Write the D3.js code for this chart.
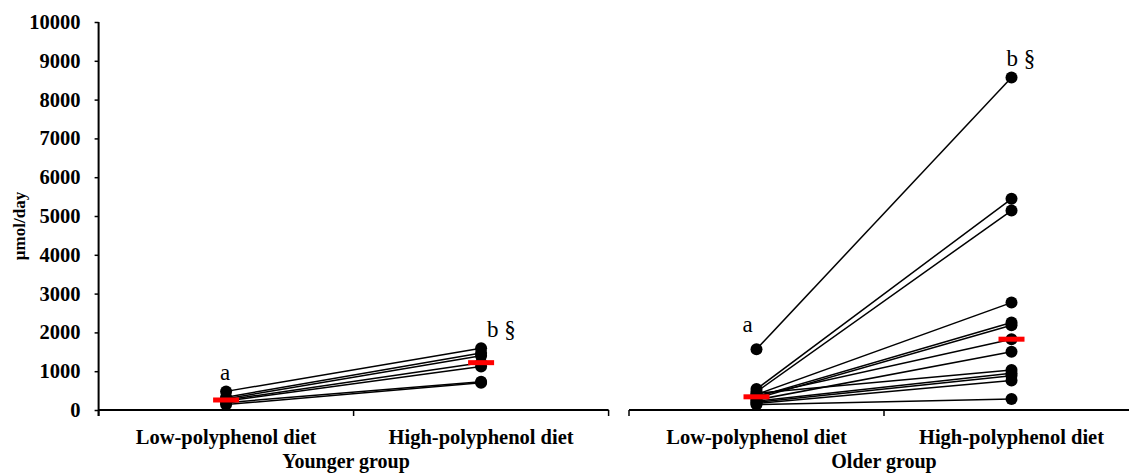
<!DOCTYPE html>
<html>
<head>
<meta charset="utf-8">
<script src="https://cdn.jsdelivr.net/npm/d3@7"></script>
<style>
  body { margin: 0; background: #fff; }
  svg { display: block; font-family: 'Liberation Serif', 'Times New Roman', serif; }
</style>
</head>
<body>
<svg id="chart" width="1129" height="474"></svg>
<script>
// categories
const groups = ['Younger group', 'Older group'];
const diets = ['Low-polyphenol diet', 'High-polyphenol diet'];
const yTicks = [0, 1000, 2000, 3000, 4000, 5000, 6000, 7000, 8000, 9000, 10000];

// paired subject values (µmol/day), index i = same subject
const youngerLow  = [480, 330, 290, 258, 230, 190, 140];
const youngerHigh = [1590, 1470, 1400, 1220, 1120, 730, 700];
const olderLow  = [1568, 540, 470, 400, 340, 300, 370, 260, 430, 230, 200, 170, 140];
const olderHigh = [8568, 5442, 5141, 2768, 2254, 2185, 1825, 1500, 1030, 950, 880, 760, 283];

// significance letters: [group, diet, text, y value of baseline, x shift]
const marks = [
    ['Younger group', 'Low-polyphenol diet', 'a', 773, -6],
    ['Younger group', 'High-polyphenol diet', 'b §', 1881, 6],
    ['Older group', 'Low-polyphenol diet', 'a', 2010, -14],
    ['Older group', 'High-polyphenol diet', 'b §', 8866, -5]
];

const svg = d3.select('#chart');
const serif = "'Liberation Serif', 'Times New Roman', serif";

const y = d3.scaleLinear().domain([0, 10000]).range([410, 22]);

// one x band scale per panel
const panelRange = {
    'Younger group': [98.6, 608.6],
    'Older group': [629, 1139]
};
const titleX = { 'Younger group': 346, 'Older group': 884 };

const seriesByGroup = {
    'Younger group': [youngerLow, youngerHigh],
    'Older group': [olderLow, olderHigh]
};

// y axis
const yAxis = svg.append('g')
    .attr('transform', `translate(${panelRange['Younger group'][0]},0)`)
    .call(d3.axisLeft(y)
        .tickValues(yTicks)
        .tickFormat(d3.format('d'))
        .tickSize(4)
        .tickSizeOuter(0)
        .tickPadding(14));
yAxis.select('.domain').remove();
yAxis.append('line')
    .attr('y1', y(10000))
    .attr('y2', y(0) + 6)
    .attr('stroke', '#000')
    .attr('stroke-width', 2);
yAxis.selectAll('.tick line').attr('stroke', '#000').attr('stroke-width', 1.5);
yAxis.selectAll('.tick text')
    .attr('fill', '#000')
    .attr('font-family', serif)
    .attr('font-size', 20.5)
    .attr('font-weight', 'bold');

svg.append('text')
    .attr('transform', 'translate(25,226) rotate(-90)')
    .attr('text-anchor', 'middle')
    .attr('font-size', 17)
    .attr('font-weight', 'bold')
    .text('µmol/day');

groups.forEach(g => {
    const x = d3.scaleBand().domain(diets).range(panelRange[g]).padding(0);
    const cx = d => x(d) + x.bandwidth() / 2;
    const [low, high] = seriesByGroup[g];
    const panel = svg.append('g');

    // x axis line + ticks at band edges
    panel.append('line')
        .attr('x1', x.range()[0]).attr('x2', x.range()[1])
        .attr('y1', y(0)).attr('y2', y(0))
        .attr('stroke', '#000').attr('stroke-width', 2);
    const edges = diets.map(d => x(d)).concat([x.range()[1]]);
    panel.selectAll('.xtick').data(edges).join('line')
        .attr('class', 'xtick')
        .attr('x1', d => d).attr('x2', d => d)
        .attr('y1', y(0)).attr('y2', y(0) + 6)
        .attr('stroke', '#000').attr('stroke-width', 1.5);

    panel.selectAll('.xlab').data(diets).join('text')
        .attr('class', 'xlab')
        .attr('x', d => cx(d))
        .attr('y', 444)
        .attr('text-anchor', 'middle')
        .attr('font-size', 20.5)
        .attr('font-weight', 'bold')
        .text(d => d);

    panel.append('text')
        .attr('x', titleX[g])
        .attr('y', 468)
        .attr('text-anchor', 'middle')
        .attr('font-size', 20)
        .attr('font-weight', 'bold')
        .text(g);

    // paired lines
    panel.selectAll('.pair').data(low.map((v, i) => [v, high[i]])).join('line')
        .attr('class', 'pair')
        .attr('x1', cx(diets[0])).attr('x2', cx(diets[1]))
        .attr('y1', d => y(d[0])).attr('y2', d => y(d[1]))
        .attr('stroke', '#000').attr('stroke-width', 1.5);

    // points
    [low, high].forEach((vals, j) => {
        panel.selectAll(`.pt${j}`).data(vals).join('circle')
            .attr('class', `pt${j}`)
            .attr('cx', cx(diets[j]))
            .attr('cy', d => y(d))
            .attr('r', 6)
            .attr('fill', '#000');
    });

    // medians
    [low, high].forEach((vals, j) => {
        panel.append('rect')
            .attr('x', cx(diets[j]) - 13)
            .attr('y', y(d3.median(vals)) - 2.5)
            .attr('width', 26)
            .attr('height', 5)
            .attr('fill', '#ff0000');
    });

    // letters
    panel.selectAll('.sig').data(marks.filter(m => m[0] === g)).join('text')
        .attr('class', 'sig')
        .attr('x', d => cx(d[1]) + d[4])
        .attr('y', d => y(d[3]))
        .attr('font-size', 23)
        .text(d => d[2]);
});
</script>
</body>
</html>
